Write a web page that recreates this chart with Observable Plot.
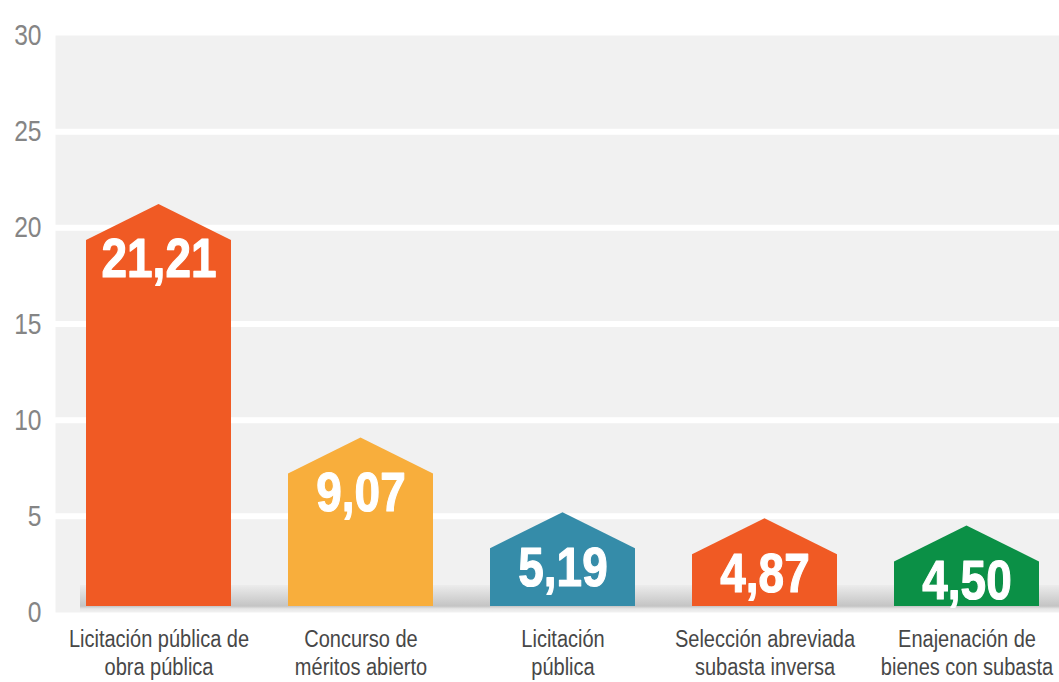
<!DOCTYPE html>
<html>
<head>
<meta charset="utf-8">
<script src="https://cdn.jsdelivr.net/npm/d3@7"></script>
<script src="https://cdn.jsdelivr.net/npm/@observablehq/plot@0.6"></script>
<style>
  html, body { margin: 0; padding: 0; background: #ffffff; }
  #chart svg { display: block; }
</style>
</head>
<body>
<div id="chart"></div>
<script>
const categories = [
  "Licitación pública de\nobra pública",
  "Concurso de\nméritos abierto",
  "Licitación\npública",
  "Selección abreviada\nsubasta inversa",
  "Enajenación de\nbienes con subasta"
];
const values = [21.21, 9.07, 5.19, 4.87, 4.50];
const colors = ["#F05A24", "#F8AE3C", "#358CA9", "#F05A24", "#0B9046"];
const yTicks = [0, 5, 10, 15, 20, 25, 30];

const data = categories.map((c, i) => ({cat: c, value: values[i], color: colors[i]}));
const fmt = v => v.toLocaleString("es-ES", {minimumFractionDigits: 2, maximumFractionDigits: 2});
const font = "'Liberation Sans', Arial, Helvetica, sans-serif";

function bandwidthOf(s) {
  const b = s.bandwidth;
  return typeof b === "function" ? b() : b;
}

// house-shaped bars drawn through Plot's scales
function houses(index, scales, values_, dimensions) {
  const g = d3.create("svg:g").attr("aria-label", "houses");
  const bw = bandwidthOf(scales.x);
  const roof = 36;
  const inset = 6;
  for (const d of data) {
    const x0 = scales.x(d.cat), x1 = x0 + bw, xm = x0 + bw / 2;
    const yTop = scales.y(d.value), yBase = scales.y(0) - inset;
    const yShoulder = yTop + roof;
    g.append("path")
      .attr("d", `M${x0},${yBase}L${x0},${yShoulder}L${xm},${yTop}L${x1},${yShoulder}L${x1},${yBase}Z`)
      .attr("fill", d.color);
  }
  return g.node();
}

// floor shadow band
function floor(index, scales, values_, dimensions) {
  const g = d3.create("svg:g").attr("aria-label", "floor");
  const id = "floorGrad";
  const grad = g.append("defs").append("linearGradient")
    .attr("id", id).attr("x1", 0).attr("x2", 0).attr("y1", 0).attr("y2", 1);
  grad.append("stop").attr("offset", "0%").attr("stop-color", "#ececec");
  grad.append("stop").attr("offset", "78%").attr("stop-color", "#c4c4c4");
  grad.append("stop").attr("offset", "88%").attr("stop-color", "#e6e6e6");
  grad.append("stop").attr("offset", "100%").attr("stop-color", "#f1f1f1");
  const y0 = scales.y(0);
  const xs = scales.x(categories[0]) - 6;
  g.append("rect")
    .attr("x", xs)
    .attr("y", y0 - 27)
    .attr("width", dimensions.width - dimensions.marginRight - xs)
    .attr("height", 27)
    .attr("fill", `url(#${id})`);
  return g.node();
}

const plot = Plot.plot({
  width: 1059,
  height: 682,
  marginLeft: 55,
  marginRight: 0,
  marginTop: 35,
  marginBottom: 70,
  style: {background: "#ffffff", overflow: "visible"},
  x: {type: "band", domain: categories, range: [84, 1042], paddingInner: 0.28, paddingOuter: 0, axis: null},
  y: {domain: [0, 30], axis: null},
  marks: [
    Plot.frame({fill: "#f1f1f1", stroke: null}),
    Plot.gridY({ticks: [5, 10, 15, 20, 25], stroke: "#ffffff", strokeWidth: 6, strokeOpacity: 1}),
    floor,
    houses,
    Plot.text(data, {
      x: "cat", y: "value", text: d => fmt(d.value),
      dy: 55, fill: "#ffffff", stroke: "#ffffff", strokeWidth: 1.2,
      fontSize: 56, fontWeight: "bold", fontFamily: font
    }),
    Plot.axisY({
      label: null,
      ticks: yTicks, tickSize: 0, tickPadding: 14, fontSize: 30, fontFamily: font,
      fill: "#858585", tickFormat: d => String(d)
    }),
    Plot.text(categories, {
      x: d => d, text: d => d, frameAnchor: "bottom", lineAnchor: "top", dy: 15,
      fontSize: 23, lineHeight: 1.2, fill: "#474747", fontFamily: font
    })
  ]
});

// condense the type horizontally (Helvetica Condensed look)
function squeeze(group, k) {
  if (!group) return;
  group.querySelectorAll("text").forEach(t => {
    const tr = t.getAttribute("transform") || "";
    t.setAttribute("transform", `${tr} scale(${k},1)`);
  });
}
const textGroups = plot.querySelectorAll('g[aria-label="text"]');
squeeze(textGroups[0], 0.82);
squeeze(textGroups[1], 0.87);
squeeze(plot.querySelector('g[aria-label="y-axis tick label"]'), 0.82);
document.getElementById("chart").append(plot);
</script>
</body>
</html>
